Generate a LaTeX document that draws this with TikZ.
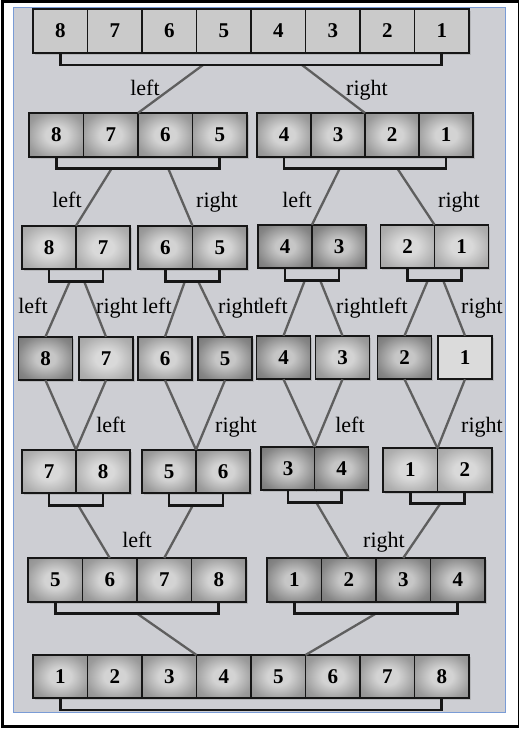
\documentclass[tikz,border=0pt]{standalone}
\usepackage{fontspec}
\setmainfont{Liberation Serif}
\newfontfamily\lserif{Liberation Serif}
\usetikzlibrary{shadows}
\definecolor{panelfill}{HTML}{CDCED3}
\definecolor{paneledge}{HTML}{7A9CD6}
\definecolor{cellflat}{HTML}{CACACA}
\definecolor{connclr}{HTML}{5E5E5E}
\definecolor{brclr}{HTML}{161616}
\definecolor{liteIn}{HTML}{D9D9D9}
\definecolor{liteOut}{HTML}{A4A4A4}
\definecolor{medIn}{HTML}{D3D3D3}
\definecolor{medOut}{HTML}{8E8E8E}
\definecolor{darkIn}{HTML}{C6C6C6}
\definecolor{darkOut}{HTML}{767676}
\pgfdeclareradialshading{shLite}{\pgfpoint{0bp}{0bp}}{color(0bp)=(liteIn); color(10bp)=(liteIn); color(27bp)=(liteOut!80!liteIn); color(36bp)=(liteOut); color(50bp)=(liteOut)}
\pgfdeclareradialshading{shMed}{\pgfpoint{0bp}{0bp}}{color(0bp)=(medIn); color(10bp)=(medIn); color(27bp)=(medOut!80!medIn); color(36bp)=(medOut); color(50bp)=(medOut)}
\pgfdeclareradialshading{shDark}{\pgfpoint{0bp}{0bp}}{color(0bp)=(darkIn); color(9bp)=(darkIn); color(27bp)=(darkOut!80!darkIn); color(36bp)=(darkOut); color(50bp)=(darkOut)}
\tikzset{
  cell/.style={draw=brclr, line width=1.7pt, minimum width=54.5pt, minimum height=43.5pt,
    inner sep=0pt, outer sep=0pt,
    font=\lserif\fontsize{21}{21}\selectfont\bfseries,
    drop shadow={opacity=0.3, shadow xshift=1.6pt, shadow yshift=-2pt}},
  flat/.style={cell, fill=cellflat},
  lite/.style={cell, shade, shading=shLite},
  med/.style={cell, shade, shading=shMed},
  dark/.style={cell, shade, shading=shDark},
  conn/.style={draw=connclr, line width=2.3pt},
  bracket/.style={draw=brclr, line width=2.6pt},
  lbl/.style={font=\lserif\fontsize{22}{22}\selectfont, inner sep=0pt, anchor=base}
}
\begin{document}
\begin{tikzpicture}[x=1pt,y=-1pt]
\useasboundingbox (0,0) rectangle (519,729);
% frame and panel
\draw[line width=3pt] (2.5,1.5) rectangle (519.5,726.5);
\draw[draw=paneledge, line width=0.9pt, fill=panelfill] (13,7) rectangle (505,712);

% junction coordinates on brackets
\coordinate (j1a) at (203,65);  \coordinate (j1b) at (302,65);
\coordinate (j2a) at (112,168); \coordinate (j2b) at (168,168);
\coordinate (j2c) at (340,168); \coordinate (j2d) at (397,168);
\coordinate (j3a) at (70,281);  \coordinate (j3b) at (84,281);
\coordinate (j3c) at (185,281); \coordinate (j3d) at (198,281);
\coordinate (j3e) at (305,280); \coordinate (j3f) at (320,280);
\coordinate (j3g) at (428,280); \coordinate (j3h) at (443,280);
\coordinate (j5a) at (78,505);  \coordinate (j5b) at (193,505);
\coordinate (j5c) at (316,502); \coordinate (j5d) at (440,504);
\coordinate (j6a) at (137,613.5); \coordinate (j6b) at (376,613.5);

% Row 1
\foreach \v [count=\i] in {8,7,6,5,4,3,2,1}
  \node[flat, minimum height=44pt] (r1-\i) at ({33+54.5*(\i-0.5)},31) {\v};
% Row 7
\foreach \v [count=\i] in {1,2,3,4,5,6,7,8}
  \node[med, minimum height=43pt] (r7-\i) at ({33+54.5*(\i-0.5)},676.5) {\v};
% Row 2
\node[med, minimum height=44pt] (r2L-1) at (56.25,135) {8};
\node[med, minimum height=44pt] (r2L-2) at (110.75,135) {7};
\node[med, minimum height=44pt] (r2L-3) at (165.25,135) {6};
\node[med, minimum height=44pt] (r2L-4) at (219.75,135) {5};
\node[med, minimum height=44pt, minimum width=54pt] (r2R-1) at (284,135) {4};
\node[med, minimum height=44pt, minimum width=54pt] (r2R-2) at (338,135) {3};
\node[med, minimum height=44pt, minimum width=54pt] (r2R-3) at (392,135) {2};
\node[med, minimum height=44pt, minimum width=54pt] (r2R-4) at (446,135) {1};
% Row 3
\node[lite, minimum width=54pt] (r3A-1) at (49,247.5) {8};
\node[lite, minimum width=54pt] (r3A-2) at (103,247.5) {7};
\node[med] (r3B-1) at (165.25,247.5) {6};
\node[med] (r3B-2) at (219.75,247.5) {5};
\node[dark, minimum width=54pt] (r3C-1) at (285,246.5) {4};
\node[dark, minimum width=54pt] (r3C-2) at (339,246.5) {3};
\node[lite, minimum width=54pt] (r3D-1) at (407.5,246.5) {2};
\node[lite, minimum width=54pt] (r3D-2) at (461.5,246.5) {1};
% Row 4
\node[dark, minimum width=54pt] (r4-1) at (45.5,358.5) {8};
\node[lite, minimum width=54pt] (r4-2) at (106,358.5) {7};
\node[med, minimum width=54pt] (r4-3) at (165,358.5) {6};
\node[dark, minimum width=54pt] (r4-4) at (225,358.5) {5};
\node[dark, minimum width=54pt] (r4-5) at (283.5,357.5) {4};
\node[med, minimum width=54pt] (r4-6) at (342.5,357.5) {3};
\node[dark, minimum width=54pt] (r4-7) at (404.5,357.5) {2};
\node[flat, minimum width=54pt, fill=black!14] (r4-8) at (465,357.5) {1};
% Row 5
\node[lite, minimum width=54pt] (r5A-1) at (49,471.5) {7};
\node[lite, minimum width=54pt] (r5A-2) at (103,471.5) {8};
\node[med, minimum width=54pt] (r5B-1) at (169,471.5) {5};
\node[med, minimum width=54pt] (r5B-2) at (223,471.5) {6};
\node[dark, minimum width=54pt] (r5C-1) at (288,468.5) {3};
\node[dark, minimum width=54pt] (r5C-2) at (341.5,468.5) {4};
\node[lite] (r5D-1) at (410.25,470) {1};
\node[lite] (r5D-2) at (464.75,470) {2};
% Row 6
\node[med, minimum height=44pt] (r6L-1) at (55.25,580) {5};
\node[med, minimum height=44pt] (r6L-2) at (109.75,580) {6};
\node[med, minimum height=44pt] (r6L-3) at (164.25,580) {7};
\node[med, minimum height=44pt] (r6L-4) at (218.75,580) {8};
\node[dark, minimum height=44pt] (r6R-1) at (294.25,580) {1};
\node[dark, minimum height=44pt] (r6R-2) at (348.75,580) {2};
\node[dark, minimum height=44pt] (r6R-3) at (403.25,580) {3};
\node[dark, minimum height=44pt] (r6R-4) at (457.75,580) {4};

% ---- connectors ----
\draw[conn] (j1a) -- (r2L-3.north west);
\draw[conn] (j1b) -- (r2R-3.north west);
\draw[conn] (j2a) -- (r3A-2.north west);
\draw[conn] (j2b) -- (r3B-2.north west);
\draw[conn] (j2c) -- (r3C-2.north west);
\draw[conn] (j2d) -- (r3D-2.north west);
\draw[conn] (j3a) -- (r4-1.north);
\draw[conn] (j3b) -- (r4-2.north);
\draw[conn] (j3c) -- (r4-3.north);
\draw[conn] (j3d) -- (r4-4.north);
\draw[conn] (j3e) -- (r4-5.north);
\draw[conn] (j3f) -- (r4-6.north);
\draw[conn] (j3g) -- (r4-7.north);
\draw[conn] (j3h) -- (r4-8.north);
\draw[conn] (r4-1.south) -- (r5A-2.north west);
\draw[conn] (r4-2.south) -- (r5A-2.north west);
\draw[conn] (r4-3.south) -- (r5B-2.north west);
\draw[conn] (r4-4.south) -- (r5B-2.north west);
\draw[conn] (r4-5.south) -- (r5C-2.north west);
\draw[conn] (r4-6.south) -- (r5C-2.north west);
\draw[conn] (r4-7.south) -- (r5D-2.north west);
\draw[conn] (r4-8.south) -- (r5D-2.north west);
\draw[conn] (j5a) -- (r6L-2.north);
\draw[conn] (j5b) -- (r6L-3.north);
\draw[conn] (j5c) -- (r6R-2.north);
\draw[conn] (j5d) -- (r6R-3.north);
\draw[conn] (j6a) -- (r7-4.north west);
\draw[conn] (j6b) -- (r7-6.north west);

% ---- brackets ----
\draw[bracket] (r1-1.south) -- ++(0,12) -| (r1-8.south);
\draw[bracket] (r2L-1.south) -- ++(0,11.5) -| (r2L-4.south);
\draw[bracket] (r2R-1.south) -- ++(0,11.5) -| (r2R-4.south);
\draw[bracket] (r3A-1.south) -- ++(0,12) -| (r3A-2.south);
\draw[bracket] (r3B-1.south) -- ++(0,12) -| (r3B-2.south);
\draw[bracket] (r3C-1.south) -- ++(0,12) -| (r3C-2.south);
\draw[bracket] (r3D-1.south) -- ++(0,12) -| (r3D-2.south);
\draw[bracket] (r5A-1.south) -- ++(0,12) -| (r5A-2.south);
\draw[bracket] (r5B-1.south) -- ++(0,12) -| (r5B-2.south);
\draw[bracket] (r5C-1.south) -- ++(0,12) -| (r5C-2.south);
\draw[bracket] (r5D-1.south) -- ++(0,12) -| (r5D-2.south);
\draw[bracket] (r6L-1.south) -- ++(0,11.5) -| (r6L-4.south);
\draw[bracket] (r6R-1.south) -- ++(0,11.5) -| (r6R-4.south);
\draw[bracket] (r7-1.south) -- ++(0,12) -| (r7-8.south);

% ---- labels ----
\node[lbl] (t1a) at (145,95) {left};
\node[lbl] (t1b) at (367,95) {right};
\node[lbl] (t2a) at (67,207) {left};
\node[lbl] (t2b) at (217,207) {right};
\node[lbl] (t2c) at (297,207) {left};
\node[lbl] (t2d) at (459,207) {right};
\node[lbl] (t3a) at (33,313) {left};
\node[lbl] (t3b) at (117,313) {right};
\node[lbl] (t3c) at (157,313) {left};
\node[lbl] (t3d) at (239,313) {right};
\node[lbl] (t3e) at (273,313) {left};
\node[lbl] (t3f) at (357,313) {right};
\node[lbl] (t3g) at (393,313) {left};
\node[lbl] (t3h) at (482,313) {right};
\node[lbl] (t4a) at (111,432) {left};
\node[lbl] (t4b) at (236,432) {right};
\node[lbl] (t4c) at (350,432) {left};
\node[lbl] (t4d) at (482,432) {right};
\node[lbl] (t5a) at (137,547) {left};
\node[lbl] (t5b) at (384,547) {right};
\end{tikzpicture}
\end{document}
